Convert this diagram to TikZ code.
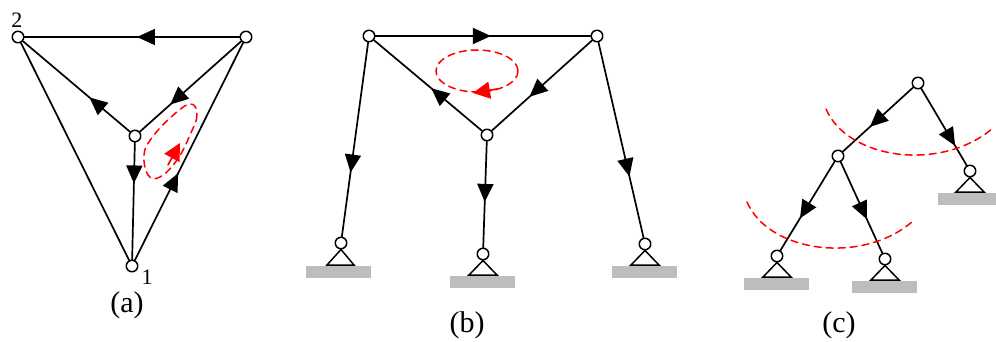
\documentclass[tikz,border=0pt]{standalone}
\usepackage{fontspec}
\setmainfont{Liberation Serif}
\usetikzlibrary{arrows.meta,decorations.markings}
\tikzset{
  jointnode/.style={circle,draw,fill=white,line width=1.5pt,minimum size=11.5pt,inner sep=0pt},
  groundnode/.style={rectangle,fill=black!26,minimum width=65pt,minimum height=12pt,inner sep=0pt},
  numnode/.style={inner sep=0pt,font=\fontsize{22}{22}\selectfont},
  capnode/.style={inner sep=0pt,font=\fontsize{30}{30}\selectfont},
  bar/.style={line width=1.7pt,postaction={decorate,decoration={markings,
    mark=at position #1 with {\arrow{Triangle[length=18pt,width=16pt]}}}}},
  plainbar/.style={line width=1.7pt},
  support/.style={line width=1.5pt,line join=miter},
  cutline/.style={red,line width=1.5pt,dash pattern=on 7pt off 5pt},
  looparrow/.style={red,line width=1.7pt,-{Triangle[length=17pt,width=17pt]}},
  every picture/.style={line cap=round,line join=round}
}
\begin{document}
\begin{tikzpicture}[x=1pt,y=-1pt]
    \useasboundingbox (0,0) rectangle (996,342);

    % (a)
    \node[jointnode] (a1) at (132,266) {};
    \node[jointnode] (a2) at (18,37) {};
    \node[jointnode] (a3) at (246,37) {};
    \node[jointnode] (a4) at (135,136) {};
    \draw[bar=0.477] (a3)--(a2);
    \draw[bar=0.70] (a3)--(a4);
    \draw[bar=0.38] (a4)--(a2);
    \draw[bar=0.35] (a4)--(a1);
    \draw[bar=0.40] (a1)--(a3);
    \draw[plainbar] (a2)--(a1);
    \draw[cutline] plot[smooth cycle,tension=0.7] coordinates
      {(190,104) (197,115) (190,135) (177,160) (160,177) (148,175) (144,155) (151,139) (170,118)};
    \coordinate (ra1) at (168,165);
    \coordinate (ra2) at (180,143);
    \draw[looparrow] (ra1)--(ra2);
    \node[numnode] (lab2) at (17,20) {2};
    \node[numnode] (lab1) at (147,277) {1};
    \node[capnode] (capa) at (127,305) {(a)};

    % (b)
    \node[jointnode] (b1) at (369,36) {};
    \node[jointnode] (b2) at (597,36) {};
    \node[jointnode] (b3) at (487,135) {};
    \node[jointnode] (b4) at (341,243) {};
    \node[jointnode] (b5) at (483,254) {};
    \node[jointnode] (b6) at (645,244) {};
    \draw[bar=0.537] (b1)--(b2);
    \draw[bar=0.47] (b3)--(b1);
    \draw[bar=0.625] (b2)--(b3);
    \draw[bar=0.67] (b1)--(b4);
    \draw[bar=0.57] (b3)--(b5);
    \draw[bar=0.687] (b2)--(b6);
    \node[groundnode] (g1) at (338.5,272) {};
    \node[groundnode] (g2) at (482.5,282) {};
    \node[groundnode] (g3) at (644.5,272) {};
    \draw[support] (b4.south)--(327,265)--(354,265)--cycle;
    \draw[support] (b5.south)--(469,275)--(497,275)--cycle;
    \draw[support] (b6.south)--(631,265)--(659,265)--cycle;
    \draw[cutline] (477,71) ellipse (41 and 21);
    \coordinate (rb1) at (497,89);
    \coordinate (rb2) at (473,93);
    \draw[looparrow] (rb1)--(rb2);
    \node[capnode] (capb) at (467,325) {(b)};

    % (c)
    \node[jointnode] (c1) at (918,83) {};
    \node[jointnode] (c2) at (838,156) {};
    \node[jointnode] (c3) at (970,171) {};
    \node[jointnode] (c4) at (777,256) {};
    \node[jointnode] (c5) at (885,259) {};
    \draw[bar=0.615] (c1)--(c2);
    \draw[bar=0.745] (c1)--(c3);
    \draw[bar=0.64] (c2)--(c4);
    \draw[bar=0.63] (c2)--(c5);
    \node[groundnode] (g4) at (970.5,199) {};
    \node[groundnode] (g5) at (776.5,284) {};
    \node[groundnode] (g6) at (884.5,287) {};
    \draw[support] (c3.south)--(956,192)--(984,192)--cycle;
    \draw[support] (c4.south)--(763,277)--(791,277)--cycle;
    \draw[support] (c5.south)--(871,280)--(899,280)--cycle;
    \draw[cutline] (826,109) .. controls (848,160) and (942,172) .. (993,128);
    \draw[cutline] (747,202) .. controls (769,253) and (863,265) .. (913,221);
    \node[capnode] (capc) at (839,325) {(c)};
\end{tikzpicture}
\end{document}
